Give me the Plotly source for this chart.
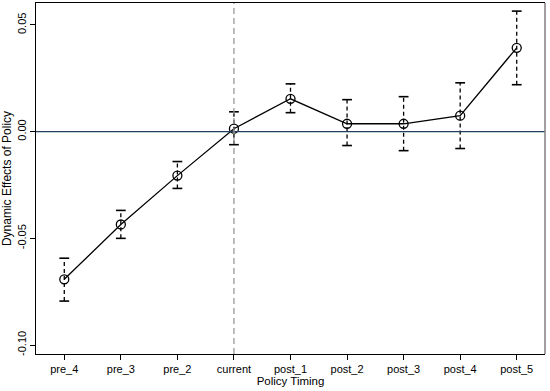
import plotly.graph_objects as go

categories = ["pre_4", "pre_3", "pre_2", "current", "post_1", "post_2", "post_3", "post_4", "post_5"]
estimates = [-0.0692, -0.0435, -0.0206, 0.0014, 0.0154, 0.0037, 0.0037, 0.0075, 0.0393]
ci_upper = [-0.0593, -0.0369, -0.0140, 0.0093, 0.0224, 0.0150, 0.0164, 0.0229, 0.0565]
ci_lower = [-0.0794, -0.0500, -0.0266, -0.0061, 0.0089, -0.0065, -0.0089, -0.0079, 0.0220]
y_ticks = [0.05, 0.00, -0.05, -0.10]
y_tick_labels = ["0.05", "0.00", "-0.05", "-0.10"]

fig = go.Figure()

# dashed confidence interval lines
for c, lo, hi in zip(categories, ci_lower, ci_upper):
    fig.add_trace(go.Scatter(
        x=[c, c], y=[lo, hi], mode="lines",
        line=dict(color="black", width=1.3, dash="4px,3px"),
        showlegend=False, hoverinfo="skip"))

# caps
fig.add_trace(go.Scatter(
    x=categories + categories, y=ci_upper + ci_lower, mode="markers",
    marker=dict(symbol="line-ew", size=7, line=dict(color="black", width=1.6)),
    showlegend=False, hoverinfo="skip"))

# point estimates
fig.add_trace(go.Scatter(
    x=categories, y=estimates, mode="lines+markers",
    line=dict(color="black", width=1.3),
    marker=dict(symbol="circle-open", size=9, color="black", line=dict(width=1.3)),
    showlegend=False))

fig.add_hline(y=0, line=dict(color="#23415e", width=1.2))
fig.add_vline(x="current", line=dict(color="#999999", width=1.3, dash="6px,4px"))
# right frame edge (gray)
fig.add_shape(type="line", xref="paper", yref="paper", x0=1, x1=1, y0=0, y1=1,
              line=dict(color="#808080", width=1.5))

fig.update_layout(
    width=550, height=391,
    margin=dict(l=36, r=5, t=3, b=37),
    paper_bgcolor="white", plot_bgcolor="white",
    font=dict(family="Liberation Sans, Arial, sans-serif", size=11, color="black"),
)
fig.update_xaxes(
    type="category", categoryorder="array", categoryarray=categories,
    range=[-0.5, 8.5],
    showline=True, linecolor="black", linewidth=1.2, mirror=True,
    ticks="outside", ticklen=5, tickcolor="black",
    showgrid=False, zeroline=False,
    title=dict(text="Policy Timing", standoff=1, font=dict(size=11.5)),
)
fig.update_yaxes(
    range=[-0.1042, 0.0603],
    tickvals=y_ticks, ticktext=y_tick_labels, tickangle=-90,
    showline=True, linecolor="black", linewidth=1.2, mirror=False,
    ticks="outside", ticklen=5, tickcolor="black",
    showgrid=False, zeroline=False,
    title=dict(text="Dynamic Effects of Policy", standoff=1, font=dict(size=12)),
)

fig.write_html("out.html", config={"displayModeBar": False},
               post_script="document.body.style.margin='0';")
